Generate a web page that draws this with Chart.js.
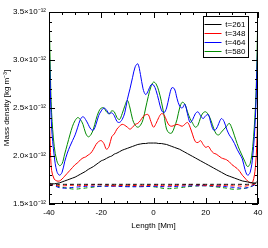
<!DOCTYPE html>
<html>
<head>
<meta charset="utf-8">
<script src="https://cdn.jsdelivr.net/npm/chart.js@4/dist/chart.umd.min.js"></script>
<style>
  html, body { margin: 0; padding: 0; background: #fff; }
  #wrap { width: 268px; height: 248px; }
</style>
</head>
<body>
<div id="wrap"><canvas id="density"></canvas></div>
<script>
// length along the loop [Mm], solid curves
const lengthMm = [
  -40, -39.5, -39, -38, -37, -36, -35, -34, -33, -32, -31, -30, -29, -28, -27, -26, -25, -24, -23, -22, -21,
  -20, -19, -18, -17, -16, -15, -14, -13, -12, -11, -10, -9, -8, -7, -6, -5, -4, -3, -2, -1,
  0, 1, 2, 3, 4, 5, 6, 7, 8, 9, 10, 11, 12, 13, 14, 15, 16, 17, 18, 19,
  20, 21, 22, 23, 24, 25, 26, 27, 28, 29, 30, 31, 32, 33, 34, 35, 36, 37, 38, 39, 39.5, 40
];

// mass density in units of 1e-12 kg m^-3
const rho261 = [
  1.72, 1.715, 1.71, 1.71, 1.715, 1.72, 1.73, 1.74, 1.75, 1.76, 1.77, 1.78, 1.795, 1.81, 1.825, 1.84, 1.86, 1.875, 1.89, 1.91, 1.93,
  1.95, 1.96, 1.975, 1.99, 2.00, 2.02, 2.03, 2.045, 2.06, 2.07, 2.08, 2.09, 2.10, 2.11, 2.12, 2.125, 2.13, 2.13, 2.135, 2.135,
  2.135, 2.135, 2.13, 2.13, 2.125, 2.12, 2.11, 2.10, 2.09, 2.08, 2.07, 2.055, 2.04, 2.025, 2.01, 1.995, 1.98, 1.965, 1.95, 1.935,
  1.92, 1.905, 1.89, 1.875, 1.86, 1.845, 1.83, 1.815, 1.80, 1.79, 1.78, 1.77, 1.76, 1.75, 1.74, 1.735, 1.73, 1.725, 1.72, 1.72, 1.73, 1.74
];
const rho348 = [
  2.55, 2.10, 1.85, 1.76, 1.74, 1.74, 1.76, 1.79, 1.82, 1.85, 1.88, 1.91, 1.93, 1.96, 1.98, 1.99, 2.01, 2.03, 2.07, 2.12, 2.15,
  2.16, 2.13, 2.07, 2.10, 2.20, 2.23, 2.28, 2.31, 2.33, 2.32, 2.30, 2.28, 2.30, 2.33, 2.34, 2.37, 2.41, 2.43, 2.43, 2.36,
  2.30, 2.34, 2.40, 2.44, 2.43, 2.37, 2.32, 2.31, 2.32, 2.33, 2.32, 2.31, 2.33, 2.35, 2.30, 2.22, 2.15, 2.14, 2.16, 2.12,
  2.09, 2.10, 2.06, 2.03, 2.02, 2.00, 1.98, 1.97, 1.96, 1.94, 1.91, 1.89, 1.87, 1.84, 1.80, 1.77, 1.74, 1.72, 1.73, 1.88, 2.10, 2.55
];
const rho464 = [
  3.27, 2.70, 2.30, 2.00, 1.84, 1.80, 1.83, 1.94, 2.03, 2.10, 2.16, 2.22, 2.30, 2.38, 2.41, 2.38, 2.33, 2.28, 2.27, 2.33, 2.42,
  2.47, 2.50, 2.48, 2.44, 2.45, 2.42, 2.36, 2.35, 2.38, 2.45, 2.59, 2.70, 2.82, 2.93, 2.96, 2.85, 2.70, 2.64, 2.68, 2.74,
  2.74, 2.68, 2.58, 2.48, 2.45, 2.50, 2.62, 2.71, 2.70, 2.60, 2.52, 2.50, 2.54, 2.44, 2.35, 2.38, 2.44, 2.46, 2.42, 2.39,
  2.42, 2.43, 2.34, 2.27, 2.28, 2.34, 2.39, 2.36, 2.28, 2.22, 2.18, 2.13, 2.07, 2.02, 1.97, 1.86, 1.80, 1.83, 2.00, 2.40, 2.80, 3.30
];
const rho580 = [
  3.60, 2.90, 2.45, 2.10, 1.95, 1.90, 1.92, 2.02, 2.12, 2.22, 2.31, 2.37, 2.40, 2.38, 2.33, 2.24, 2.20, 2.22, 2.28, 2.38, 2.46,
  2.50, 2.50, 2.46, 2.44, 2.47, 2.46, 2.40, 2.38, 2.44, 2.52, 2.58, 2.50, 2.38, 2.32, 2.30, 2.32, 2.38, 2.50, 2.62, 2.72,
  2.77, 2.75, 2.68, 2.57, 2.43, 2.28, 2.24, 2.24, 2.30, 2.38, 2.50, 2.56, 2.54, 2.46, 2.39, 2.34, 2.30, 2.32, 2.40, 2.45,
  2.46, 2.43, 2.37, 2.29, 2.23, 2.22, 2.25, 2.28, 2.31, 2.34, 2.29, 2.21, 2.13, 2.06, 2.00, 1.94, 1.89, 1.92, 2.10, 2.50, 2.90, 3.60
];

// dashed curves, coarser sampling
const lengthDash = [-40, -38, -36, -34, -32, -30, -28, -25, -20, -15, -10, -5, 0, 5, 10, 15, 20, 25, 28, 30, 32, 34, 36, 38, 40];
const dash261 = [1.71, 1.705, 1.705, 1.705, 1.705, 1.705, 1.705, 1.705, 1.705, 1.705, 1.705, 1.705, 1.705, 1.705, 1.705, 1.705, 1.705, 1.705, 1.705, 1.705, 1.705, 1.705, 1.705, 1.71, 1.72];
const dash348 = [1.70, 1.695, 1.69, 1.69, 1.695, 1.695, 1.69, 1.695, 1.70, 1.69, 1.695, 1.69, 1.695, 1.69, 1.695, 1.70, 1.695, 1.69, 1.695, 1.69, 1.69, 1.685, 1.69, 1.70, 1.72];
const dash464 = [1.70, 1.69, 1.67, 1.665, 1.67, 1.675, 1.68, 1.685, 1.685, 1.685, 1.68, 1.68, 1.685, 1.68, 1.685, 1.69, 1.69, 1.685, 1.68, 1.675, 1.67, 1.665, 1.67, 1.69, 1.72];
const dash580 = [1.70, 1.695, 1.68, 1.67, 1.66, 1.655, 1.66, 1.67, 1.685, 1.69, 1.685, 1.685, 1.68, 1.66, 1.67, 1.685, 1.69, 1.675, 1.665, 1.655, 1.655, 1.66, 1.67, 1.69, 1.72];

const seriesLabels = ['t=261', 't=348', 't=464', 't=580'];
const seriesColors = ['#000000', '#ff0000', '#0000ff', '#008a00'];

const FONT = 'Liberation Sans, Arial, sans-serif';

function pairs(xs, ys) {
    return xs.map((x, i) => ({ x: x, y: ys[i] }));
}

// gnuplot-like inward ticks on all four sides, frame and key box
const frameAndKey = {
    id: 'frameAndKey',
    afterDraw(chart) {
        const { ctx, chartArea: a, scales } = chart;
        ctx.save();
        ctx.strokeStyle = '#000';
        ctx.lineWidth = 1;
        ctx.beginPath();
        scales.x.ticks.forEach(t => {
            const px = Math.round(scales.x.getPixelForValue(t.value)) + 0.5;
            const len = Math.round(t.value) % 20 === 0 ? 6 : 3;
            ctx.moveTo(px, a.bottom); ctx.lineTo(px, a.bottom - len);
            ctx.moveTo(px, a.top); ctx.lineTo(px, a.top + len);
        });
        scales.y.ticks.forEach(t => {
            const py = Math.round(scales.y.getPixelForValue(t.value)) + 0.5;
            const len = Math.round(t.value * 10) % 5 === 0 ? 6 : 3;
            ctx.moveTo(a.left, py); ctx.lineTo(a.left + len, py);
            ctx.moveTo(a.right, py); ctx.lineTo(a.right - len, py);
        });
        ctx.stroke();
        ctx.strokeRect(Math.round(a.left) + 0.5, Math.round(a.top) + 0.5, Math.round(a.width) - 1, Math.round(a.height) - 1);

        // key box top right
        const bx = 203.5, by = 16.5, bw = 45, bh = 41;
        ctx.fillStyle = '#fff';
        ctx.fillRect(bx, by, bw, bh);
        ctx.strokeRect(bx, by, bw, bh);
        ctx.font = '8px ' + FONT;
        ctx.textAlign = 'right';
        ctx.textBaseline = 'middle';
        const legendSets = chart.data.datasets.filter(d => !d.borderDash);
        legendSets.forEach((d, i) => {
            const y = Math.round(by + 7 + i * 9) + 0.5;
            ctx.strokeStyle = d.borderColor;
            ctx.beginPath();
            ctx.moveTo(bx + 1, y);
            ctx.lineTo(bx + 18, y);
            ctx.stroke();
            ctx.fillStyle = '#000';
            ctx.fillText(d.label, bx + bw - 3, y);
        });
        ctx.restore();
    }
};

function drawDensityChart() {
    const canvas = document.getElementById('density');
    const solid = [rho261, rho348, rho464, rho580];
    const dashed = [dash261, dash348, dash464, dash580];

    const datasets = [];
    dashed.forEach((ys, i) => {
        datasets.push({
            label: seriesLabels[i] + ' (dashed)',
            data: pairs(lengthDash, ys),
            borderColor: seriesColors[i],
            borderWidth: 1,
            borderDash: [4, 3],
            pointRadius: 0,
            tension: 0.4,
            fill: false
        });
    });
    solid.forEach((ys, i) => {
        datasets.push({
            label: seriesLabels[i],
            data: pairs(lengthMm, ys),
            borderColor: seriesColors[i],
            borderWidth: 1,
            pointRadius: 0,
            tension: 0.35,
            fill: false
        });
    });

    new Chart(canvas, {
        type: 'line',
        data: { datasets: datasets },
        options: {
            responsive: true,
            maintainAspectRatio: false,
            animation: false,
            layout: { padding: { left: 1, right: 10, top: 12, bottom: 14 } },
            plugins: {
                legend: { display: false },
                tooltip: { enabled: false }
            },
            scales: {
                x: {
                    type: 'linear',
                    min: -40,
                    max: 40,
                    grid: { display: false, drawTicks: false },
                    border: { display: false },
                    afterFit: s => { s.height = 30; },
                    afterBuildTicks: s => {
                        const t = [];
                        for (let v = -40; v <= 40; v += 5) t.push({ value: v });
                        s.ticks = t;
                    },
                    ticks: {
                        autoSkip: false,
                        maxRotation: 0,
                        padding: 4,
                        color: '#000',
                        font: { family: FONT, size: 8 },
                        callback: v => (Math.round(v) % 20 === 0 ? String(Math.round(v)) : '')
                    },
                    title: {
                        display: true,
                        text: 'Length [Mm]',
                        color: '#000',
                        font: { family: FONT, size: 8 },
                        padding: { top: 0, bottom: 3 }
                    }
                },
                y: {
                    min: 1.5,
                    max: 3.5,
                    grid: { display: false, drawTicks: false },
                    border: { display: false },
                    afterFit: s => { s.width = 48; },
                    afterBuildTicks: s => {
                        const t = [];
                        for (let k = 15; k <= 35; k++) t.push({ value: k / 10 });
                        s.ticks = t;
                    },
                    ticks: {
                        autoSkip: false,
                        padding: 3,
                        color: '#000',
                        font: { family: FONT, size: 8 },
                        callback: v => (Math.round(v * 10) % 5 === 0 ? v.toFixed(1) + '×10⁻¹²' : '')
                    },
                    title: {
                        display: true,
                        text: 'Mass density [kg m⁻³]',
                        color: '#000',
                        font: { family: FONT, size: 8 },
                        padding: { top: 1, bottom: 0 }
                    }
                }
            }
        },
        plugins: [frameAndKey]
    });
}

window.addEventListener('DOMContentLoaded', drawDensityChart);
</script>
</body>
</html>
